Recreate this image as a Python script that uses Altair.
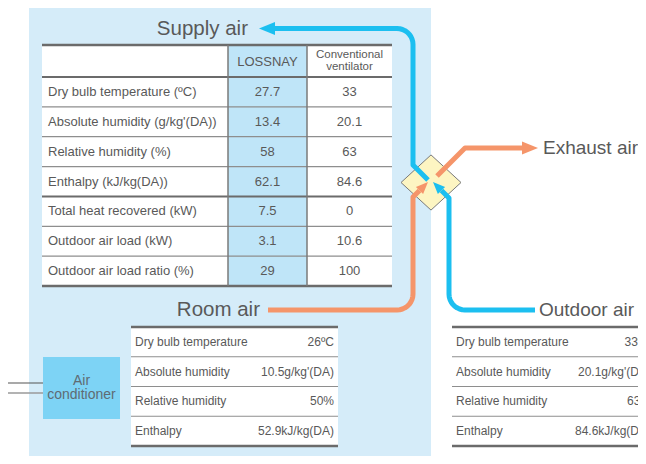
import altair as alt
import pandas as pd
import numpy as np

# ---------------- data ----------------
supply_rows = ["Dry bulb temperature (ºC)", "Absolute humidity (g/kg'(DA))",
               "Relative humidity (%)", "Enthalpy (kJ/kg(DA))",
               "Total heat recovered (kW)", "Outdoor air load (kW)",
               "Outdoor air load ratio (%)"]
lossnay_vals = ["27.7", "13.4", "58", "62.1", "7.5", "3.1", "29"]
conv_vals = ["33", "20.1", "63", "84.6", "0", "10.6", "100"]
col_headers = ["LOSSNAY", "Conventional", "ventilator"]
cond_rows = ["Dry bulb temperature", "Absolute humidity", "Relative humidity", "Enthalpy"]
room_vals = ["26ºC", "10.5g/kg'(DA)", "50%", "52.9kJ/kg(DA)"]
outdoor_vals = ["33ºC", "20.1g/kg'(DA)", "63%", "84.6kJ/kg(DA)"]
flow_labels = ["Supply air", "Exhaust air", "Room air", "Outdoor air"]
ac_label = ["Air", "conditioner"]

# ---------------- layout ----------------
OFF = 8
W, H = 630, 448
FONT = "Liberation Sans"
TXT = "#595959"
BLUE = "#1cbff0"
ORANGE = "#f5956a"
DARK = "#6b6b6b"
THIN = "#8e8e8e"

xs = alt.Scale(domain=[OFF, OFF + W], nice=False, zero=False)
ys = alt.Scale(domain=[OFF, OFF + H], nice=False, zero=False, reverse=True)

T_L, C1, C2, T_R = 42, 228, 307, 392
T_TOP, HEAD_B, T_BOT = 45, 77, 286
ROW_H = (T_BOT - HEAD_B) / len(supply_rows)
row_b = [HEAD_B + k * ROW_H for k in range(len(supply_rows) + 1)]

L_TOP, L_BOT = 327, 446
LROW_H = (L_BOT - L_TOP) / len(cond_rows)
lrow_b = [L_TOP + k * LROW_H for k in range(len(cond_rows) + 1)]
LT = (131, 338)
RT = (452, 662)

# rectangles
rect_df = pd.DataFrame([
    dict(x=29, y=OFF, x2=431, y2=OFF + H, c="#d5ecf9"),
    dict(x=T_L, y=T_TOP, x2=T_R, y2=T_BOT, c="#ffffff"),
    dict(x=C1, y=T_TOP, x2=C2, y2=T_BOT, c="#bfe5f8"),
    dict(x=LT[0], y=L_TOP, x2=LT[1], y2=L_BOT, c="#ffffff"),
    dict(x=43, y=357, x2=120, y2=419, c="#7dd3f5"),
])

# rules
rules = []
rules.append(dict(x=T_L, x2=T_R, y=T_TOP, y2=T_TOP, c=DARK, w=2.5))
for k, yb in enumerate(row_b):
    if k == 0:
        rules.append(dict(x=T_L, x2=T_R, y=yb, y2=yb, c=DARK, w=2))
    elif k == 4:
        rules.append(dict(x=T_L, x2=T_R, y=yb, y2=yb, c=DARK, w=2))
    elif k == len(row_b) - 1:
        rules.append(dict(x=T_L, x2=T_R, y=yb, y2=yb, c=DARK, w=2.5))
    else:
        rules.append(dict(x=T_L, x2=T_R, y=yb, y2=yb, c=THIN, w=1.2))
for cx in (C1, C2):
    rules.append(dict(x=cx, x2=cx, y=T_TOP, y2=T_BOT, c="#7a7a7a", w=1.5))
for (a, b) in (LT, RT):
    for k, yb in enumerate(lrow_b):
        thick = k in (0, len(lrow_b) - 1)
        rules.append(dict(x=a, x2=b, y=yb, y2=yb, c=DARK if thick else THIN,
                          w=2.5 if thick else 1.2))
rules.append(dict(x=7, x2=43, y=383, y2=383, c="#555555", w=1.2))
rules.append(dict(x=7, x2=43, y=393, y2=393, c="#9a9a9a", w=1.5))
rule_df = pd.DataFrame(rules)

# texts
left_t, center_t, right_t = [], [], []
for k, lab in enumerate(supply_rows):
    yc = (row_b[k] + row_b[k + 1]) / 2
    left_t.append(dict(x=48, y=yc, t=lab, s=13, c=TXT))
    center_t.append(dict(x=(C1 + C2) / 2, y=yc, t=lossnay_vals[k], s=13, c=TXT))
    center_t.append(dict(x=(C2 + T_R) / 2, y=yc, t=conv_vals[k], s=13, c=TXT))
center_t.append(dict(x=(C1 + C2) / 2, y=(T_TOP + HEAD_B) / 2 + 1, t=col_headers[0], s=13, c=TXT))
center_t.append(dict(x=(C2 + T_R) / 2, y=55, t=col_headers[1], s=11.5, c=TXT))
center_t.append(dict(x=(C2 + T_R) / 2, y=67, t=col_headers[2], s=11.5, c=TXT))
for k, lab in enumerate(cond_rows):
    yc = (lrow_b[k] + lrow_b[k + 1]) / 2
    left_t.append(dict(x=LT[0] + 4, y=yc, t=lab, s=12, c=TXT))
    right_t.append(dict(x=LT[1] - 4, y=yc, t=room_vals[k], s=12, c=TXT))
    left_t.append(dict(x=RT[0] + 4, y=yc, t=lab, s=12, c=TXT))
    right_t.append(dict(x=651, y=yc, t=outdoor_vals[k], s=12, c=TXT))
center_t.append(dict(x=81.5, y=381, t=ac_label[0], s=14, c="#5f6b73"))
center_t.append(dict(x=81.5, y=395, t=ac_label[1], s=14, c="#5f6b73"))
right_t.append(dict(x=248, y=29, t=flow_labels[0], s=20.5, c=TXT))
left_t.append(dict(x=543, y=148, t=flow_labels[1], s=19, c=TXT))
right_t.append(dict(x=260, y=310, t=flow_labels[2], s=20.5, c=TXT))
left_t.append(dict(x=539, y=310, t=flow_labels[3], s=19, c=TXT))


def arc(cx, cy, r, a0, a1, n=10):
    a = np.radians(np.linspace(a0, a1, n))
    return list(zip(cx + r * np.cos(a), cy + r * np.sin(a)))


R = 16
paths = {
    "supply": ([(428, 180), (413, 165)] + arc(413 - R, 28.5 + R, R, 0, -90) + [(270, 28.5)], BLUE),
    "room": ([(268, 310)] + arc(397, 310 - R, R, 90, 0) + [(413, 197), (419.5, 190.5)], ORANGE),
    "outdoor": ([(535, 310)] + arc(465, 310 - R, R, 90, 180) + [(449, 198), (441.5, 190.5)], BLUE),
    "exhaust": ([(437, 176), (465, 148), (526, 148)], ORANGE),
}
prow = []
for name, (pts, col) in paths.items():
    for i, (px, py) in enumerate(pts):
        prow.append(dict(p=name, i=i, x=px, y=py, c=col))
path_df = pd.DataFrame(prow)

LEFT_HEAD = "M-1,0L1,-0.8L1,0.8Z"
RIGHT_HEAD = "M1,0L-1,-0.8L-1,0.8Z"
UP_HEAD = "M0,-1L0.85,1L-0.85,1Z"
head_df = pd.DataFrame([
    dict(x=259 + 8, y=28.5, sh=LEFT_HEAD, s=256, a=0, c=BLUE),
    dict(x=538 - 8, y=148, sh=RIGHT_HEAD, s=256, a=0, c=ORANGE),
    dict(x=428 - 4.24, y=182 + 4.24, sh=UP_HEAD, s=144, a=45, c=ORANGE),
    dict(x=433 + 4.24, y=182 + 4.24, sh=UP_HEAD, s=144, a=315, c=BLUE),
])
diamond_df = pd.DataFrame([dict(x=431, y=182.5, sh="M0,-0.92L1,0L0,0.92L-1,0Z", s=3600)])

# ---------------- marks ----------------
X = alt.X("x:Q", scale=xs, axis=None)
Y = alt.Y("y:Q", scale=ys, axis=None)

rect_layer = alt.Chart(rect_df).mark_rect().encode(
    x=X, y=Y, x2="x2:Q", y2="y2:Q", color=alt.Color("c:N", scale=None))

rule_layer = alt.Chart(rule_df).mark_rule().encode(
    x=X, y=Y, x2="x2:Q", y2="y2:Q", color=alt.Color("c:N", scale=None),
    strokeWidth=alt.StrokeWidth("w:Q", scale=None))


def text_layer(rows, align):
    return alt.Chart(pd.DataFrame(rows)).mark_text(
        align=align, baseline="middle", font=FONT).encode(
        x=X, y=Y, text="t:N", size=alt.Size("s:Q", scale=None),
        color=alt.Color("c:N", scale=None))


diamond_layer = alt.Chart(diamond_df).mark_point(
    filled=True, fill="#fdf5c2", stroke="#7a7a7a", strokeWidth=1, opacity=1).encode(
    x=X, y=Y, shape=alt.Shape("sh:N", scale=None), size=alt.Size("s:Q", scale=None))

path_layer = alt.Chart(path_df).mark_line(strokeWidth=5, strokeCap="butt", strokeJoin="round").encode(
    x=X, y=Y, detail="p:N", order="i:Q", color=alt.Color("c:N", scale=None))

head_layer = alt.Chart(head_df).mark_point(filled=True, opacity=1, strokeWidth=0).encode(
    x=X, y=Y, shape=alt.Shape("sh:N", scale=None), size=alt.Size("s:Q", scale=None),
    angle=alt.Angle("a:Q", scale=None), fill=alt.Fill("c:N", scale=None))

chart = alt.layer(
    rect_layer, rule_layer,
    text_layer(left_t, "left"), text_layer(center_t, "center"), text_layer(right_t, "right"),
    diamond_layer, path_layer, head_layer,
).properties(
    width=W, height=H, padding=0,
    autosize=alt.AutoSizeParams(type="none"),
).configure_view(stroke=None)

chart.save("out.html", embed_options={"renderer": "svg", "actions": False})
